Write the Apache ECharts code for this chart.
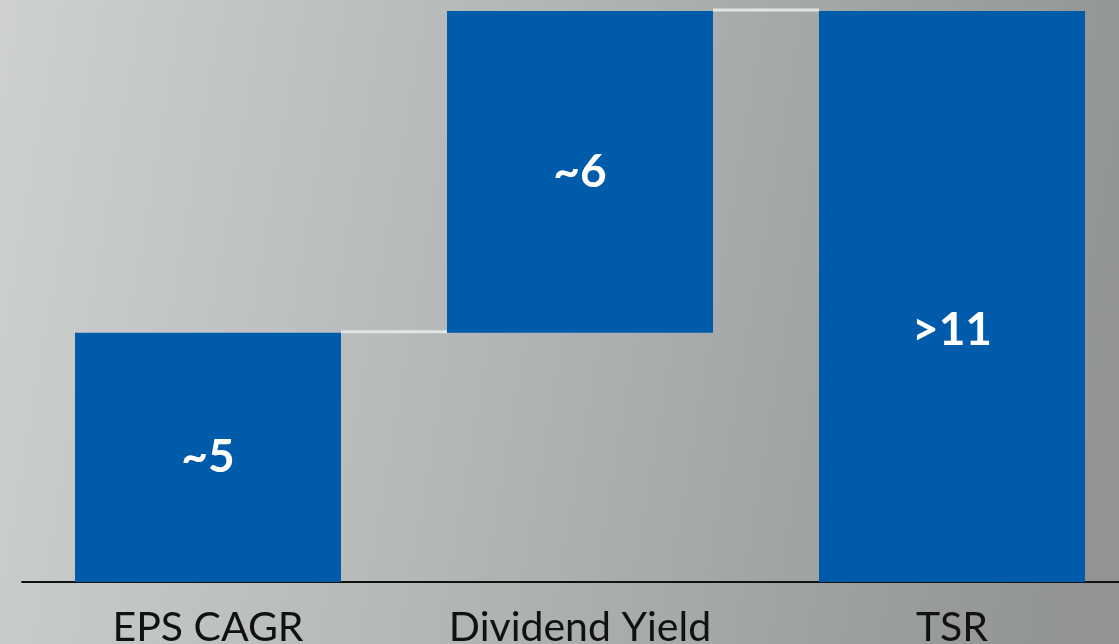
<!DOCTYPE html>
<html>
<head>
    <meta charset="UTF-8" />
    <title>TSR build-up</title>
    <script type="text/javascript" src="https://cdn.jsdelivr.net/npm/echarts@6/dist/echarts.min.js"></script>
    <style>
        html, body { margin: 0; padding: 0; overflow: hidden; }
    </style>
</head>
<body>

<!-- wider than the window on purpose: the last category runs past the right edge -->
<div id="main" style="width: 1140px;height: 644px;"></div>

<script>
    // waterfall data
    var categories = ['EPS CAGR', 'Dividend Yield', 'TSR'];
    var baseValues = [0, 4.8, 0];        // invisible offset
    var barValues = [4.8, 6.2, 11];      // visible step
    var barLabels = ['~5', '~6', '>11'];
    // connectors: [from category, to category, level]
    var connectors = [[0, 1, 4.8], [1, 2, 11]];

    var obj = document.getElementById("main");
    var mychart = echarts.init(obj);

    var option = {
        animation: false,
        backgroundColor: {
            type: 'linear', x: 0, y: 0, x2: 1, y2: 0.3,
            colorStops: [
                {offset: 0, color: '#cfd1d1'},
                {offset: 0.45, color: '#b3b7b7'},
                {offset: 1, color: '#929494'}
            ]
        },
        grid: {left: 22, right: 2, top: 11, bottom: 62, outerBoundsMode: 'none'},
        xAxis: {
            type: 'category',
            data: categories,
            axisLine: {lineStyle: {color: '#111', width: 2}},
            axisTick: {show: false},
            axisLabel: {
                color: '#111',
                fontFamily: 'Lato',
                fontSize: 41,
                margin: 25
            }
        },
        yAxis: {
            type: 'value',
            min: 0,
            max: 11,
            show: false,
            splitLine: {show: false}
        },
        series: [
            {
                type: 'bar',
                stack: 'w',
                barWidth: 266,
                itemStyle: {color: 'transparent'},
                data: baseValues
            },
            {
                type: 'bar',
                stack: 'w',
                barWidth: 266,
                itemStyle: {color: '#005bab'},
                label: {
                    show: true,
                    position: 'inside',
                    color: '#fff',
                    fontFamily: 'Lato',
                    fontWeight: 'bold',
                    fontSize: 46,
                    formatter: function (p) { return barLabels[p.dataIndex]; }
                },
                data: barValues.map(function (v, i) {
                    // the TSR label sits a little below the bar centre
                    return i === 2 ? {value: v, label: {offset: [0, 34]}} : v;
                })
            },
            {
                type: 'custom',
                z: 1,
                data: connectors,
                renderItem: function (params, api) {
                    var a = api.coord([api.value(0), api.value(2)]);
                    var b = api.coord([api.value(1), api.value(2)]);
                    var half = 133;
                    return {
                        type: 'line',
                        shape: {x1: a[0] + half, y1: a[1] - 1, x2: b[0] - half, y2: b[1] - 1},
                        style: {stroke: '#e4e4e4', lineWidth: 3}
                    };
                }
            }
        ]
    };

    mychart.setOption(option);
</script>

</body>
</html>
